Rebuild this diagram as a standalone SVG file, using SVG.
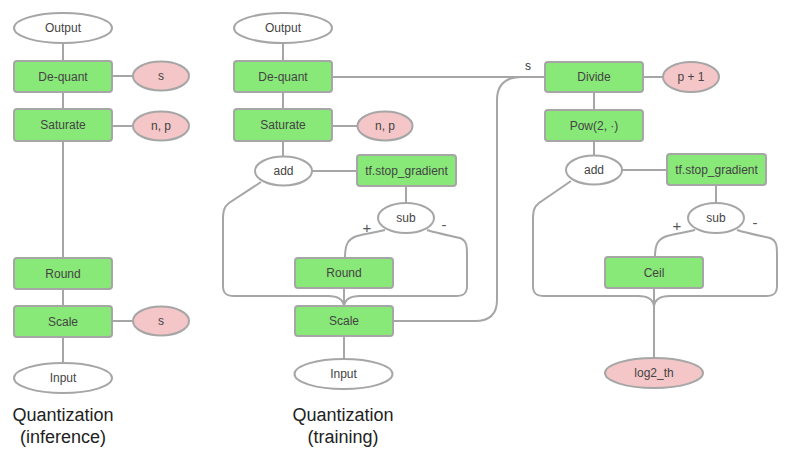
<svg xmlns="http://www.w3.org/2000/svg" width="789" height="455" viewBox="0 0 789 455">
<style>
.op{fill:#88e878;stroke:#a6a6a6;stroke-width:2}
.io{fill:#fff;stroke:#a6a6a6;stroke-width:2}
.pr{fill:#f5c6c8;stroke:#a6a6a6;stroke-width:2}
.c{fill:none;stroke:#a6a6a6;stroke-width:2}
text{font-family:"Liberation Sans",Arial,sans-serif;font-size:12px;fill:#444;text-anchor:middle;dominant-baseline:central}
.t{font-size:18px;fill:#222}
.lb{font-size:12px;fill:#333}
.pm{font-size:15px;fill:#555}
</style>
<rect width="789" height="455" fill="#fff"/>
<g id="connectors">
<path class="c" d="M63 43V61M112 76H133M63 92V109M112 126H133M63 141V258M63 289V306M112 321H133M63 337V363"/>
<path class="c" d="M283 43V61M283 92V109M332 126H358M283 141V157M312 171H357M406 186V203M344 288V306M344 336V359"/>
<path class="c" d="M332 77H545"/>
<path class="c" d="M522 77C505 77 497 85 497 100V300C497 314 490 321 475 321H393"/>
<path class="c" d="M385 230C372 233 364 234 357 236C348 239 345 244 345 258"/>
<path class="c" d="M427 230C440 234 452 236 460 238C467 241 467 246 467 255V286C467 293 464 296 456 296H360C350 296 345 299 344 306"/>
<path class="c" d="M261 182L229 203C224 207 223 211 223 220V286C223 293 226 296 234 296H328C338 296 343 299 344 306"/>
<path class="c" d="M594 92V110M594 141V155M643 77H663M622 170H667M716 185V203M654 288V358"/>
<path class="c" d="M695 230C682 233 674 234 667 236C658 239 655 244 655 257"/>
<path class="c" d="M737 230C750 234 762 236 770 238C777 241 777 246 777 255V286C777 293 774 296 766 296H670C660 296 655 299 654 306"/>
<path class="c" d="M571 181L539 203C534 207 533 211 533 220V286C533 293 536 296 544 296H638C648 296 653 299 654 306"/>
<text class="pm" x="367" y="227">+</text>
<text class="pm" x="444" y="224">-</text>
<text class="pm" x="677" y="225">+</text>
<text class="pm" x="755" y="222">-</text>
<text class="lb" x="528" y="66">s</text>
</g>
<g id="l-output"><ellipse class="io" cx="63" cy="28" rx="49" ry="15"/><text x="63" y="28">Output</text></g>
<g id="l-dequant"><rect class="op" x="14" y="61" width="98" height="31" rx="3"/><text x="63" y="76.5">De-quant</text></g>
<g id="l-s1"><ellipse class="pr" cx="161" cy="76" rx="28" ry="14.5"/><text x="161" y="76">s</text></g>
<g id="l-saturate"><rect class="op" x="14" y="109" width="98" height="32" rx="3"/><text x="63" y="125">Saturate</text></g>
<g id="l-np"><ellipse class="pr" cx="161" cy="126" rx="28" ry="14.5"/><text x="161" y="126">n, p</text></g>
<g id="l-round"><rect class="op" x="14" y="258" width="98" height="31" rx="3"/><text x="63" y="273.5">Round</text></g>
<g id="l-scale"><rect class="op" x="14" y="306" width="98" height="31" rx="3"/><text x="63" y="321.5">Scale</text></g>
<g id="l-s2"><ellipse class="pr" cx="161" cy="321" rx="28" ry="14.5"/><text x="161" y="321">s</text></g>
<g id="l-input"><ellipse class="io" cx="63" cy="378" rx="49" ry="15"/><text x="63" y="378">Input</text></g>
<text class="t" x="63" y="415">Quantization</text>
<text class="t" x="63" y="437">(inference)</text>
<g id="m-output"><ellipse class="io" cx="283" cy="28" rx="49" ry="15"/><text x="283" y="28">Output</text></g>
<g id="m-dequant"><rect class="op" x="234" y="61" width="98" height="31" rx="3"/><text x="283" y="76.5">De-quant</text></g>
<g id="m-saturate"><rect class="op" x="234" y="109" width="98" height="32" rx="3"/><text x="283" y="125">Saturate</text></g>
<g id="m-np"><ellipse class="pr" cx="385" cy="126" rx="27.5" ry="14.5"/><text x="385" y="126">n, p</text></g>
<g id="m-add"><ellipse class="io" cx="283.5" cy="171" rx="28.5" ry="14.5"/><text x="283.5" y="171">add</text></g>
<g id="m-stopgrad"><rect class="op" x="357" y="155" width="99" height="31" rx="3"/><text x="406.5" y="170.5">tf.stop_gradient</text></g>
<g id="m-sub"><ellipse class="io" cx="406" cy="218" rx="28" ry="15"/><text x="406" y="218">sub</text></g>
<g id="m-round"><rect class="op" x="295" y="258" width="98" height="30" rx="3"/><text x="344" y="273">Round</text></g>
<g id="m-scale"><rect class="op" x="295" y="306" width="98" height="30" rx="3"/><text x="344" y="321">Scale</text></g>
<g id="m-input"><ellipse class="io" cx="343.5" cy="374" rx="49" ry="15"/><text x="343.5" y="374">Input</text></g>
<text class="t" x="343" y="415">Quantization</text>
<text class="t" x="343" y="437">(training)</text>
<g id="r-divide"><rect class="op" x="545" y="62" width="98" height="30" rx="3"/><text x="594" y="77">Divide</text></g>
<g id="r-p1"><ellipse class="pr" cx="691" cy="77" rx="28" ry="15"/><text x="691" y="77">p + 1</text></g>
<g id="r-pow"><rect class="op" x="545" y="110" width="98" height="31" rx="3"/><text x="594" y="125.5">Pow(2, ·)</text></g>
<g id="r-add"><ellipse class="io" cx="594" cy="170" rx="28" ry="14.5"/><text x="594" y="170">add</text></g>
<g id="r-stopgrad"><rect class="op" x="667" y="154" width="99" height="31" rx="3"/><text x="716.5" y="169.5">tf.stop_gradient</text></g>
<g id="r-sub"><ellipse class="io" cx="716" cy="218" rx="28" ry="15"/><text x="716" y="218">sub</text></g>
<g id="r-ceil"><rect class="op" x="605" y="257" width="98" height="31" rx="3"/><text x="654" y="272.5">Ceil</text></g>
<g id="r-log2th"><ellipse class="pr" cx="654" cy="373" rx="49" ry="15"/><text x="654" y="373">log2_th</text></g>
</svg>
